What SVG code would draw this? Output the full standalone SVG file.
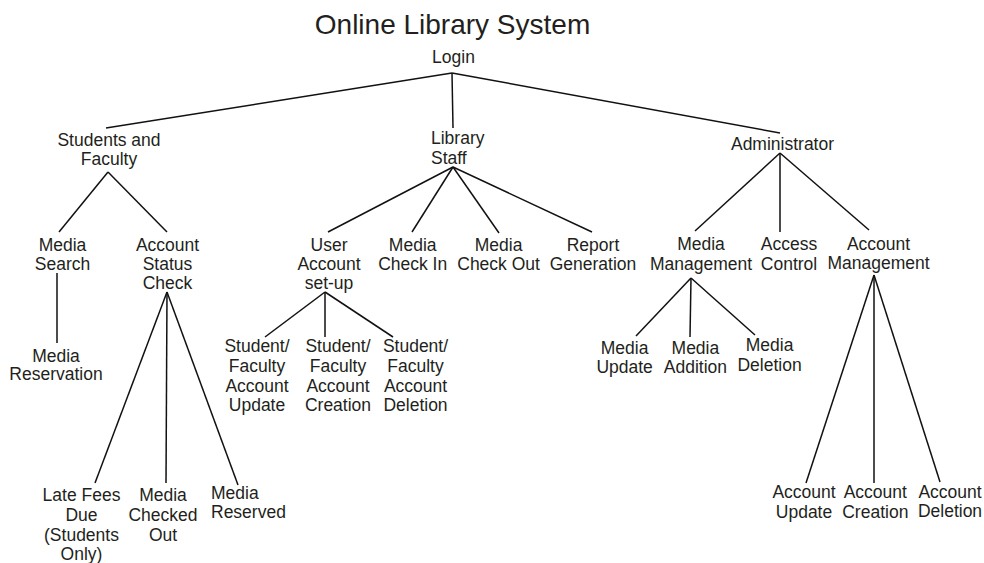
<svg xmlns="http://www.w3.org/2000/svg" width="984" height="563" viewBox="0 0 984 563">
<style>
text{font-family:"Liberation Sans",Arial,sans-serif;font-size:17.5px;fill:#231f20;text-anchor:middle}
.title{font-size:28px}
.l{text-anchor:start}
#connectors line{stroke:#111;stroke-width:1.5;fill:none}
</style>
<rect width="984" height="563" fill="#fff"/>
<text class="title" x="452.5" y="34">Online Library System</text>
<g id="connectors">
<line x1="452" y1="73" x2="106" y2="128"/>
<line x1="452" y1="73" x2="453" y2="128"/>
<line x1="452" y1="73" x2="780" y2="133"/>
<line x1="108" y1="172" x2="59" y2="232"/>
<line x1="108" y1="172" x2="167" y2="232"/>
<line x1="57" y1="273" x2="57" y2="343"/>
<line x1="167" y1="292" x2="95" y2="483"/>
<line x1="167" y1="292" x2="166" y2="483"/>
<line x1="167" y1="292" x2="238" y2="485"/>
<line x1="453" y1="167" x2="328" y2="232"/>
<line x1="453" y1="167" x2="412" y2="232"/>
<line x1="453" y1="167" x2="499" y2="233"/>
<line x1="453" y1="167" x2="592" y2="232"/>
<line x1="325" y1="292" x2="265" y2="337"/>
<line x1="325" y1="292" x2="325" y2="337"/>
<line x1="325" y1="292" x2="393" y2="337"/>
<line x1="780" y1="153" x2="695" y2="231"/>
<line x1="780" y1="153" x2="780" y2="232"/>
<line x1="780" y1="153" x2="869" y2="230"/>
<line x1="691" y1="278" x2="636" y2="336"/>
<line x1="691" y1="278" x2="690" y2="337"/>
<line x1="691" y1="278" x2="755" y2="335"/>
<line x1="874" y1="275" x2="806" y2="483"/>
<line x1="874" y1="275" x2="874" y2="483"/>
<line x1="874" y1="275" x2="940" y2="482"/>
</g>
<g id="login"><text x="453.5" y="63">Login</text></g>
<g id="students-faculty"><text x="109" y="146">Students and</text><text x="109" y="165">Faculty</text></g>
<g id="library-staff"><text class="l" x="431" y="144">Library</text><text class="l" x="431" y="164">Staff</text></g>
<g id="administrator"><text x="782.5" y="150">Administrator</text></g>
<g id="media-search"><text x="62.5" y="251">Media</text><text x="62.5" y="270">Search</text></g>
<g id="media-reservation"><text x="56" y="361.5">Media</text><text x="56" y="380">Reservation</text></g>
<g id="account-status-check"><text x="167.5" y="251">Account</text><text x="167.5" y="270">Status</text><text x="167.5" y="289">Check</text></g>
<g id="late-fees"><text x="81.5" y="501">Late Fees</text><text x="81.5" y="521">Due</text><text x="81.5" y="540.5">(Students</text><text x="81.5" y="559.5">Only)</text></g>
<g id="media-checked-out"><text x="163" y="501">Media</text><text x="163" y="521">Checked</text><text x="163" y="540.5">Out</text></g>
<g id="media-reserved"><text class="l" x="211" y="498.5">Media</text><text class="l" x="211" y="518">Reserved</text></g>
<g id="user-account-setup"><text x="329" y="251">User</text><text x="329" y="270">Account</text><text x="329" y="289">set-up</text></g>
<g id="sf-account-update"><text x="257" y="352">Student/</text><text x="257" y="371.5">Faculty</text><text x="257" y="391.5">Account</text><text x="257" y="411">Update</text></g>
<g id="sf-account-creation"><text x="338" y="352">Student/</text><text x="338" y="371.5">Faculty</text><text x="338" y="391.5">Account</text><text x="338" y="411">Creation</text></g>
<g id="sf-account-deletion"><text x="415.5" y="352">Student/</text><text x="415.5" y="371.5">Faculty</text><text x="415.5" y="391.5">Account</text><text x="415.5" y="411">Deletion</text></g>
<g id="media-check-in"><text x="412.7" y="251">Media</text><text x="412.7" y="270">Check In</text></g>
<g id="media-check-out"><text x="498.6" y="251">Media</text><text x="498.6" y="270">Check Out</text></g>
<g id="report-generation"><text x="593" y="251">Report</text><text x="593" y="270">Generation</text></g>
<g id="media-management"><text x="701" y="250">Media</text><text x="701" y="270">Management</text></g>
<g id="access-control"><text x="789" y="250">Access</text><text x="789" y="270">Control</text></g>
<g id="account-management"><text x="878.5" y="249.5">Account</text><text x="878.5" y="269">Management</text></g>
<g id="media-update"><text x="624.6" y="354">Media</text><text x="624.6" y="373.3">Update</text></g>
<g id="media-addition"><text x="695.4" y="354">Media</text><text x="695.4" y="373.3">Addition</text></g>
<g id="media-deletion"><text x="769.6" y="351">Media</text><text x="769.6" y="370.7">Deletion</text></g>
<g id="account-update"><text x="804" y="498.3">Account</text><text x="804" y="517.7">Update</text></g>
<g id="account-creation"><text x="875.3" y="498.3">Account</text><text x="875.3" y="517.7">Creation</text></g>
<g id="account-deletion"><text x="950" y="498.3">Account</text><text x="950" y="516.7">Deletion</text></g>
</svg>
